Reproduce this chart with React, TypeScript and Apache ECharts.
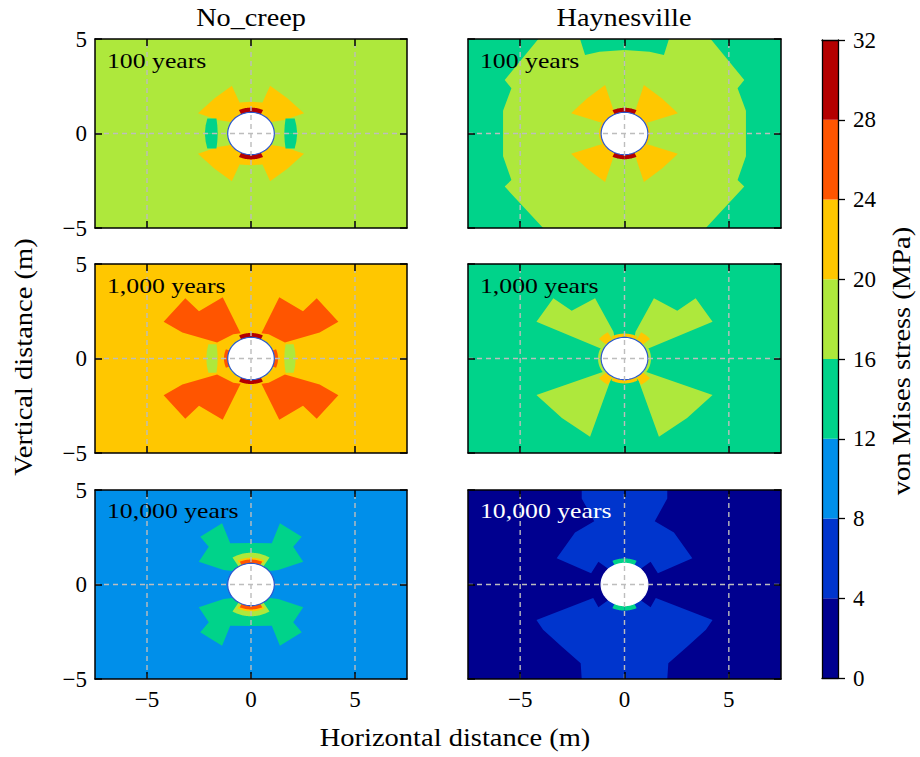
import React, { useEffect, useRef } from 'react';
import * as echarts from 'echarts';

// ---------- data ----------
const levelBounds = [0, 4, 8, 12, 16, 20, 24, 28, 32];
const levelColors = ['#00008f', '#0035cd', '#008fea', '#00d38a', '#aee83c', '#ffc700', '#ff5500', '#b40000'];

const xExtent = [-7.5, 7.5];
const yExtent = [-5, 5];
const tickValues = [-5, 0, 5];
const guideX = [-5, 0, 5];
const guideY = [0];
const boreRadius = 1.12;

const columnTitles = ['No_creep', 'Haynesville'];
const timeLabels = ['100 years', '1,000 years', '10,000 years'];

// contour regions: level index, polygon vertices [x, y] (m)
// or polar band [r0, r1, angle0, angle1] (m, deg); m = mirrored about y axis ('x') or both axes ('xy')
type Shape = { lv: number; m?: string; pts?: number[][]; band?: number[]; bg?: boolean };

const noCreep100: Shape[] = [
  { lv: 4, bg: true },
  { lv: 5, m: 'xy', pts: [[0, 0.8], [0, 1.68], [0.55, 1.64], [0.92, 2.53], [1.75, 1.87], [2.55, 1.07], [1.6, 0.72], [1.05, 0.62], [0.7, 0.5]] },
  { lv: 3, m: 'xy', pts: [[1.6, 0], [2.22, 0], [2.18, 0.42], [2.1, 0.8], [1.66, 0.8], [1.62, 0.42]] },
  { lv: 7, m: 'xy', band: [1.05, 1.37, 65, 90] },
];

const haynes100: Shape[] = [
  { lv: 3, bg: true },
  { lv: 4, m: 'x', pts: [[0, 4.42], [1.2, 4.32], [1.89, 4.15], [2.13, 5], [4.13, 5], [5.74, 2.83], [5.42, 2.39], [5.82, 1.2], [5.82, -1.2], [5.42, -2.46], [5.74, -2.81], [3.9, -5], [0, -5]] },
  { lv: 5, m: 'xy', pts: [[0.45, 0.95], [0.53, 1.24], [0.93, 2.57], [1.8, 1.85], [2.56, 1.07], [1.25, 0.62], [1.0, 0.55]] },
  { lv: 5, m: 'xy', band: [1.05, 1.22, 0, 35] },
  { lv: 7, m: 'xy', band: [1.05, 1.36, 65, 90] },
];

const noCreep1000: Shape[] = [
  { lv: 5, bg: true },
  { lv: 6, m: 'xy', pts: [[0.5, 1.33], [1.36, 3.24], [2.5, 2.5], [3.16, 3.19], [4.2, 1.95], [3.3, 1.38], [1.63, 0.84], [0.85, 1.28]] },
  { lv: 4, m: 'xy', pts: [[1.6, 0], [2.15, 0], [2.12, 0.4], [2.05, 0.76], [1.66, 0.76], [1.62, 0.4]] },
  { lv: 6, m: 'xy', band: [1.05, 1.3, 0, 22] },
  { lv: 4, m: 'xy', band: [1.05, 1.16, 28, 55] },
  { lv: 7, m: 'xy', band: [1.05, 1.35, 65, 90] },
];

const haynes1000: Shape[] = [
  { lv: 3, bg: true },
  { lv: 4, m: 'x', pts: [[0.45, 0.95], [0.53, 1.42], [1.41, 3.19], [2.53, 2.53], [3.41, 3.19], [4.22, 1.95], [1.17, 0.54], [0.9, 0.6]] },
  { lv: 4, m: 'x', pts: [[0.77, -0.61], [4.22, -1.93], [3.0, -3.15], [1.65, -4.14], [0.61, -0.96], [0.4, -0.9]] },
  { lv: 4, m: 'xy', band: [1.05, 1.27, 0, 90] },
  { lv: 5, m: 'xy', band: [1.15, 1.6, 40, 60] },
  { lv: 5, m: 'xy', band: [1.05, 1.32, 62, 90] },
];

const noCreep10000: Shape[] = [
  { lv: 2, bg: true },
  { lv: 3, m: 'xy', pts: [[0, 0.9], [0, 2.2], [1.0, 2.18], [1.39, 3.24], [2.44, 2.53], [2.03, 2.0], [2.51, 1.21], [1.31, 0.77], [0.9, 0.72]] },
  { lv: 4, m: 'xy', band: [1.05, 1.68, 58, 90] },
  { lv: 5, m: 'xy', band: [1.28, 1.42, 63, 90] },
  { lv: 6, m: 'xy', band: [1.05, 1.32, 66, 90] },
];

const haynes10000: Shape[] = [
  { lv: 0, bg: true },
  { lv: 1, m: 'x', pts: [[0, 0.9], [0, 5], [2.05, 5], [2.05, 4.55], [1.45, 3.35], [2.37, 2.75], [3.25, 1.39], [1.6, 0.6], [1.25, 1.2], [0.8, 0.85]] },
  { lv: 1, m: 'x', pts: [[0, -0.9], [0.8, -0.85], [1.25, -1.2], [1.5, -0.72], [4.22, -1.88], [3.9, -2.4], [3.0, -3.29], [2.1, -4.17], [2.05, -5], [0, -5]] },
  { lv: 3, m: 'xy', band: [1.08, 1.38, 65, 90] },
];

const panelShapes = [noCreep100, haynes100, noCreep1000, haynes1000, noCreep10000, haynes10000];

// ---------- layout ----------
const colLeft = [95, 468];
const colWidth = [312, 313];
const rowTop = [39, 264, 490];
const rowHeight = 189;
const FONT = 'Liberation Serif, Times New Roman, serif';

function toPolys(s: Shape): number[][][] {
  let base: number[][];
  if (s.bg) {
    base = [[xExtent[0], yExtent[0]], [xExtent[1], yExtent[0]], [xExtent[1], yExtent[1]], [xExtent[0], yExtent[1]]];
    return [base];
  }
  if (s.band) {
    const [r0, r1, a0, a1] = s.band;
    const n = 24;
    base = [];
    for (let k = 0; k <= n; k++) {
      const a = ((a0 + ((a1 - a0) * k) / n) * Math.PI) / 180;
      base.push([r1 * Math.cos(a), r1 * Math.sin(a)]);
    }
    for (let k = n; k >= 0; k--) {
      const a = ((a0 + ((a1 - a0) * k) / n) * Math.PI) / 180;
      base.push([r0 * Math.cos(a), r0 * Math.sin(a)]);
    }
  } else {
    base = s.pts || [];
  }
  const out = [base];
  if (s.m === 'x' || s.m === 'xy') out.push(base.map(([x, y]) => [-x, y]));
  if (s.m === 'xy') {
    out.push(base.map(([x, y]) => [x, -y]));
    out.push(base.map(([x, y]) => [-x, -y]));
  }
  return out;
}

const fmt = (v: number) => (v < 0 ? '\u2212' + Math.abs(v) : String(v));

function buildOption() {
  const grid: any[] = [];
  const xAxis: any[] = [];
  const yAxis: any[] = [];
  const series: any[] = [];
  const lineStyle = { color: '#000', width: 1.5 };

  panelShapes.forEach((shapes, i) => {
    const row = Math.floor(i / 2);
    const col = i % 2;
    grid.push({ left: colLeft[col], top: rowTop[row], width: colWidth[col], height: rowHeight, containLabel: false });
    const xBase = {
      gridIndex: i, type: 'value', min: xExtent[0], max: xExtent[1], z: 10,
      axisLine: { show: true, onZero: false, lineStyle },
      axisTick: { show: true, inside: true, length: 7, customValues: tickValues, lineStyle },
      splitLine: { show: false },
    };
    xAxis.push({
      ...xBase, position: 'bottom',
      axisLabel: { show: row === 2, customValues: tickValues, formatter: fmt, fontFamily: FONT, fontSize: 23, color: '#000', margin: 9 },
    });
    xAxis.push({ ...xBase, position: 'top', axisLabel: { show: false } });
    const yBase = {
      gridIndex: i, type: 'value', min: yExtent[0], max: yExtent[1], z: 10,
      axisLine: { show: true, onZero: false, lineStyle },
      axisTick: { show: true, inside: true, length: 7, customValues: tickValues, lineStyle },
      splitLine: { show: false },
    };
    yAxis.push({
      ...yBase, position: 'left',
      axisLabel: { show: col === 0, customValues: tickValues, formatter: fmt, fontFamily: FONT, fontSize: 23, color: '#000', margin: 8 },
    });
    yAxis.push({ ...yBase, position: 'right', axisLabel: { show: false } });

    const xi = i * 2;
    const yi = i * 2;
    const items = shapes.map((_, k) => [0, 0, k]);
    items.push([0, 0, -1]); // borehole
    series.push({
      type: 'custom', xAxisIndex: xi, yAxisIndex: yi, z: 2, silent: true,
      data: items,
      renderItem: (params: any, api: any) => {
        const k = params.dataIndex;
        if (k >= shapes.length) {
          const pts: number[][] = [];
          for (let t = 0; t < 96; t++) {
            const a = (t / 96) * Math.PI * 2;
            pts.push(api.coord([boreRadius * Math.cos(a), boreRadius * Math.sin(a)]));
          }
          return {
            type: 'polygon', z2: 100, shape: { points: pts },
            style: { fill: '#ffffff', stroke: i === 5 ? '#ffffff' : '#2a56cf', lineWidth: 1.2 },
          };
        }
        const s = shapes[k];
        return {
          type: 'group',
          children: toPolys(s).map((poly) => ({
            type: 'polygon', z2: k,
            shape: { points: poly.map((p) => api.coord(p)) },
            style: { fill: levelColors[s.lv] },
          })),
        };
      },
    });
    const guides = [...guideX.map((v) => [v, 0, 0]), ...guideY.map((v) => [0, v, 1])];
    series.push({
      type: 'custom', xAxisIndex: xi, yAxisIndex: yi, z: 4, silent: true,
      data: guides,
      renderItem: (params: any, api: any) => {
        const g = guides[params.dataIndex];
        const p0 = g[2] === 0 ? api.coord([g[0], yExtent[0]]) : api.coord([xExtent[0], g[1]]);
        const p1 = g[2] === 0 ? api.coord([g[0], yExtent[1]]) : api.coord([xExtent[1], g[1]]);
        return {
          type: 'line',
          shape: { x1: p0[0], y1: p0[1], x2: p1[0], y2: p1[1] },
          style: { stroke: '#bdbdbd', lineWidth: 1.4, lineDash: [5, 4] },
        };
      },
    });
  });

  // colour bar
  const cb = panelShapes.length;
  grid.push({ left: 822, top: 40, width: 16, height: 638 });
  const cbLine = { show: true, onZero: false, lineStyle: { color: '#000', width: 1.3 } };
  xAxis.push({ gridIndex: cb, type: 'value', min: 0, max: 1, position: 'bottom', z: 10, axisLine: cbLine, axisTick: { show: false }, axisLabel: { show: false }, splitLine: { show: false } });
  xAxis.push({ gridIndex: cb, type: 'value', min: 0, max: 1, position: 'top', z: 10, axisLine: cbLine, axisTick: { show: false }, axisLabel: { show: false }, splitLine: { show: false } });
  yAxis.push({
    gridIndex: cb, type: 'value', min: levelBounds[0], max: levelBounds[levelBounds.length - 1], interval: 4, position: 'right', z: 10,
    axisLine: cbLine,
    axisTick: { show: true, inside: false, length: 7, lineStyle: { color: '#000', width: 1.3 } },
    axisLabel: { fontFamily: FONT, fontSize: 23, color: '#000', margin: 15 },
    splitLine: { show: false },
  });
  yAxis.push({ gridIndex: cb, type: 'value', min: levelBounds[0], max: levelBounds[levelBounds.length - 1], position: 'left', z: 10, axisLine: cbLine, axisTick: { show: false }, axisLabel: { show: false }, splitLine: { show: false } });
  const cells = levelColors.map((_, k) => [levelBounds[k], levelBounds[k + 1], k]);
  series.push({
    type: 'custom', xAxisIndex: cb * 2, yAxisIndex: cb * 2, silent: true,
    data: cells,
    renderItem: (params: any, api: any) => {
      const c = cells[params.dataIndex];
      const p0 = api.coord([0, c[0]]);
      const p1 = api.coord([1, c[1]]);
      return {
        type: 'rect',
        shape: { x: p0[0], y: p1[1], width: p1[0] - p0[0], height: p0[1] - p1[1] },
        style: { fill: levelColors[c[2]] },
      };
    },
  });

  const txt = (text: string, x: number, y: number, size: number, sx: number, extra: any = {}) => ({
    type: 'text', x, y, scaleX: sx, z: 20,
    style: {
      text, fontFamily: FONT, fontSize: size, fill: extra.fill || '#000',
      align: extra.align || 'center', verticalAlign: 'middle',
      textAlign: extra.align || 'center', textVerticalAlign: 'middle',
    },
    rotation: extra.rotation || 0,
  });

  const graphic: any[] = [
    txt(columnTitles[0], 251, 18, 25, 1.13),
    txt(columnTitles[1], 624, 18, 25, 1.13),
    txt('Horizontal distance (m)', 455, 738, 25, 1.14),
    txt('Vertical distance (m)', 24, 357, 25, 1.14, { rotation: Math.PI / 2 }),
    txt('von Mises stress (MPa)', 902, 361, 25, 1.14, { rotation: Math.PI / 2 }),
  ];
  const labelY = [61, 285.5, 510.5];
  for (let r = 0; r < 3; r++) {
    for (let c = 0; c < 2; c++) {
      graphic.push(
        txt(timeLabels[r], colLeft[c] + 12, labelY[r], 22, 1.17, { align: 'left', fill: r === 2 && c === 1 ? '#ffffff' : '#000' })
      );
    }
  }

  return { animation: false, backgroundColor: '#ffffff', grid, xAxis, yAxis, series, graphic };
}

export default function App() {
  const ref = useRef<HTMLDivElement>(null);
  useEffect(() => {
    if (!ref.current) return;
    const chart = echarts.init(ref.current, undefined, { renderer: 'svg' });
    chart.setOption(buildOption() as any);
    return () => chart.dispose();
  }, []);
  return <div ref={ref} style={{ position: 'fixed', left: 0, top: 0, width: 920, height: 757, background: '#fff' }} />;
}
